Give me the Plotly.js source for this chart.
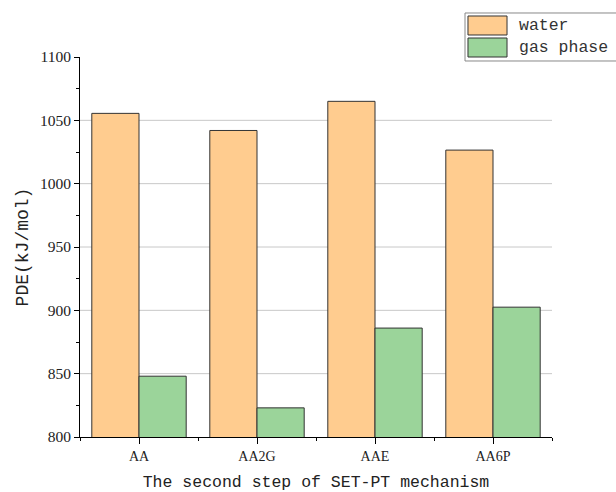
<!DOCTYPE html>
<html>
<head>
<meta charset="utf-8">
<script src="https://cdn.plot.ly/plotly-3.0.1.min.js"></script>
<style>html,body{margin:0;padding:0;background:#fff;}#chart{width:616px;height:492px;}</style>
</head>
<body>
<div id="chart"></div>
<script>
const categories = ["AA", "AA2G", "AAE", "AA6P"];
const seriesNames = ["water", "gas phase"];
const waterValues = [1055.5, 1042, 1065, 1026.5];
const gasValues = [848, 823, 886, 902.5];
const yTickValues = [800, 850, 900, 950, 1000, 1050, 1100];
const gridValues = [850, 900, 950, 1000, 1050];
const colors = ["#FFCC8F", "#9BD49A"];

const positions = categories.map((c, i) => i);
const monoFont = "Liberation Mono, DejaVu Sans Mono, monospace";
const serifFont = "Liberation Serif, DejaVu Serif, serif";

const traces = [
  {type: "bar", name: seriesNames[0], x: positions, y: waterValues,
   marker: {color: colors[0], line: {color: "#333333", width: 1}}, showlegend: false},
  {type: "bar", name: seriesNames[1], x: positions, y: gasValues,
   marker: {color: colors[1], line: {color: "#333333", width: 1}}, showlegend: false}
];

const shapes = gridValues.map(v => ({
  type: "line", xref: "paper", yref: "y", x0: 0, x1: 1, y0: v, y1: v,
  line: {color: "#c8c8c8", width: 1}, layer: "below"
}));
// legend box
shapes.push({type: "rect", xref: "paper", yref: "paper", x0: 0.8157, x1: 1.25, y0: 0.9895, y1: 1.1158,
  line: {color: "#888888", width: 1}, fillcolor: "rgba(0,0,0,0)"});
shapes.push({type: "rect", xref: "paper", yref: "paper", x0: 0.822, x1: 0.9047, y0: 1.0579, y1: 1.1079,
  line: {color: "#333333", width: 1}, fillcolor: colors[0]});
shapes.push({type: "rect", xref: "paper", yref: "paper", x0: 0.822, x1: 0.9047, y0: 1.0, y1: 1.05,
  line: {color: "#333333", width: 1}, fillcolor: colors[1]});

const annotations = [
  {xref: "paper", yref: "paper", x: 0.9258, y: 1.0816, text: seriesNames[0], showarrow: false,
   xanchor: "left", yanchor: "middle", font: {family: monoFont, size: 16.5, color: "#333"}},
  {xref: "paper", yref: "paper", x: 0.9258, y: 1.0237, text: seriesNames[1], showarrow: false,
   xanchor: "left", yanchor: "middle", font: {family: monoFont, size: 16.5, color: "#333"}}
];

const layout = {
  width: 616, height: 492,
  margin: {l: 80, r: 64, t: 57, b: 55},
  paper_bgcolor: "#ffffff", plot_bgcolor: "#ffffff",
  barmode: "group", bargap: 0.2, bargroupgap: 0,
  showlegend: false,
  xaxis: {
    range: [-0.5, 3.5], tickmode: "array", tickvals: positions, ticktext: categories,
    ticks: "outside", ticklen: 6, tickcolor: "#000", tickwidth: 1,
    showline: true, linecolor: "#000", linewidth: 1, showgrid: false, zeroline: false,
    minor: {tickmode: "array", tickvals: [-0.5, 0.5, 1.5, 2.5, 3.5], ticks: "outside", ticklen: 3, tickcolor: "#000", showgrid: false},
    tickfont: {family: serifFont, size: 14, color: "#222"},
    title: {text: "The second step of SET-PT mechanism", font: {family: monoFont, size: 16.5, color: "#222"}, standoff: 12}
  },
  yaxis: {
    range: [800, 1100], tickmode: "array", tickvals: yTickValues,
    ticks: "outside", ticklen: 5, tickcolor: "#000", tickwidth: 1,
    showline: true, linecolor: "#000", linewidth: 1, showgrid: false, zeroline: false,
    minor: {dtick: 25, ticks: "outside", ticklen: 3, tickcolor: "#000", showgrid: false},
    tickfont: {family: serifFont, size: 15.5, color: "#222"},
    title: {text: "PDE(kJ/mol)", font: {family: monoFont, size: 18, color: "#222"}, standoff: 6}
  },
  shapes: shapes,
  annotations: annotations
};

Plotly.newPlot("chart", traces, layout, {displayModeBar: false, staticPlot: true});
</script>
</body>
</html>
